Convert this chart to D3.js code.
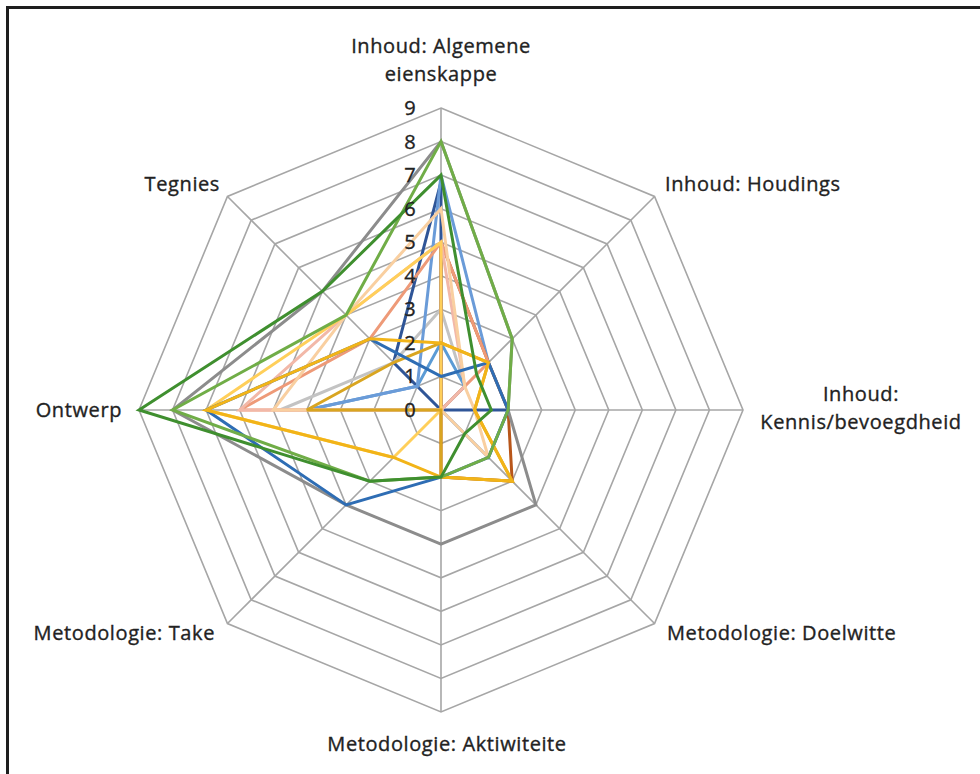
<!DOCTYPE html>
<html><head><meta charset="utf-8">
<script src="https://cdn.jsdelivr.net/npm/d3@7"></script>
<style>
html,body{margin:0;padding:0;background:#fff;}
svg{display:block;}
text{font-family:"Open Sans","Noto Sans",sans-serif;fill:#222;stroke:#222;stroke-width:0.35px;}
</style></head>
<body>
<svg id="chart" width="980" height="774"></svg>
<script>
// ---------- data ----------
const axes = ["Inhoud: Algemene eienskappe", "Inhoud: Houdings", "Inhoud: Kennis/bevoegdheid",
  "Metodologie: Doelwitte", "Metodologie: Aktiwiteite", "Metodologie: Take", "Ontwerp", "Tegnies"];
const tickLabels = ["0","1","2","3","4","5","6","7","8","9"];
// values in axis order: Algemene, Houdings, Kennis, Doelwitte, Aktiwiteite, Take, Ontwerp, Tegnies
const sDarkBlue   = [6.8, 0, 2, 0, 0, 0, 0, 2];
const sLightGray  = [3, 1, 0, 0, 0, 0, 4.8, 2];
const sLightBlue  = [2, 1, 0, 0, 0, 0, 4, 1];
const sMidBlue    = [7, 2, 2, 2, 0, 0, 4, 1];
const sBrown      = [5, 2, 2, 3, 2, 0, 0, 0];
const sSalmon     = [5, 2, 0, 0, 0, 0, 6, 3];
const sPink       = [5, 1, 0, 0, 0, 0, 6, 4];
const sPeach      = [6, 1, 1, 2, 0, 0, 5, 4];
const sLightGold  = [5, 0, 0, 0, 0, 2, 7, 4];
const sDarkGold   = [2, 2, 1, 3, 2, 0, 4, 2];
const sGray       = [8, 3, 2, 4, 4, 4, 8, 5];
const sBlue       = [1, 2, 2, 2, 2, 4, 7, 3];
const sGold       = [2, 2, 1, 3, 2, 2, 7, 3];
const sGreen      = [8, 3, 2, 2, 2, 3, 8, 4];
const sDarkGreen  = [7, 1.5, 1.5, 1, 2, 3, 9, 5];
const seriesValues = [sDarkBlue, sLightGray, sLightBlue, sMidBlue, sBrown, sSalmon, sPink, sPeach,
  sLightGold, sDarkGold, sGray, sBlue, sGold, sGreen, sDarkGreen];
const seriesColors = ["#2F5597", "#C3C3C3", "#5B9BD5", "#6A9BD8", "#B8561A", "#EE9A78", "#F2B8A8", "#F9CFA0",
  "#FFCF5A", "#D9A520", "#8C8C8C", "#2E6DB4", "#F2B418", "#70AD47", "#3F8F2F"];

// ---------- layout ----------
const svg = d3.select("#chart");
const cx = 441, cy = 410, R = 302;
const r = d3.scaleLinear().domain([0, 9]).range([0, R]);
const angle = d3.scaleLinear().domain([0, axes.length]).range([0, 2 * Math.PI]);

svg.append("rect").attr("x", 7.5).attr("y", 7.5).attr("width", 1000).attr("height", 800)
  .attr("fill", "none").attr("stroke", "#1e1e1e").attr("stroke-width", 3);

const g = svg.append("g").attr("transform", `translate(${cx},${cy})`);

// grid polygons
const levels = d3.range(1, 10);
const ring = d3.lineRadial().angle((d, i) => angle(i)).radius(d => r(d)).curve(d3.curveLinearClosed);
g.selectAll("path.grid").data(levels).join("path").attr("class", "grid")
  .attr("d", lv => ring(axes.map(() => lv)))
  .attr("fill", "none").attr("stroke", "#A6A6A6").attr("stroke-width", 1.6);
// spokes
g.selectAll("line.spoke").data(axes).join("line").attr("class", "spoke")
  .attr("x1", 0).attr("y1", 0)
  .attr("x2", (d, i) => r(9) * Math.sin(angle(i)))
  .attr("y2", (d, i) => -r(9) * Math.cos(angle(i)))
  .attr("stroke", "#A6A6A6").attr("stroke-width", 1.6);

// series
const line = d3.lineRadial().angle((d, i) => angle(i)).radius(d => r(d)).curve(d3.curveLinearClosed);
g.selectAll("path.series").data(seriesValues).join("path").attr("class", "series")
  .attr("d", d => line(d))
  .attr("fill", "none")
  .attr("stroke", (d, i) => seriesColors[i])
  .attr("stroke-width", 3)
  .attr("stroke-linejoin", "miter");

// tick labels
g.selectAll("text.tick").data(tickLabels).join("text").attr("class", "tick")
  .attr("x", -31).attr("y", (d, i) => -r(i) + 7)
  .attr("text-anchor", "middle")
  .style("font-size", "20px")
  .text(d => d);

// axis labels
const labelLayout = [
  {anchor: "middle", dx: 0, dy: -357, lines: ["Inhoud: Algemene", "eienskappe"]},
  {anchor: "start", dx: 224, dy: -219, lines: ["Inhoud: Houdings"]},
  {anchor: "middle", dx: 420, dy: -9, lines: ["Inhoud:", "Kennis/bevoegdheid"]},
  {anchor: "start", dx: 226, dy: 230, lines: ["Metodologie: Doelwitte"]},
  {anchor: "middle", dx: 6, dy: 341, lines: ["Metodologie: Aktiwiteite"]},
  {anchor: "end", dx: -226, dy: 230, lines: ["Metodologie: Take"]},
  {anchor: "end", dx: -319, dy: 7, lines: ["Ontwerp"]},
  {anchor: "end", dx: -221, dy: -219, lines: ["Tegnies"]}
];
axes.forEach((name, i) => {
  const L = labelLayout[i];
  const t = g.append("text").attr("class", "axis-label")
    .attr("text-anchor", L.anchor).style("font-size", "20px").style("letter-spacing", "0.6px");
  L.lines.forEach((ln, k) => {
    t.append("tspan").attr("x", L.dx).attr("y", L.dy + k * 28).text(ln);
  });
});
</script>
</body></html>
